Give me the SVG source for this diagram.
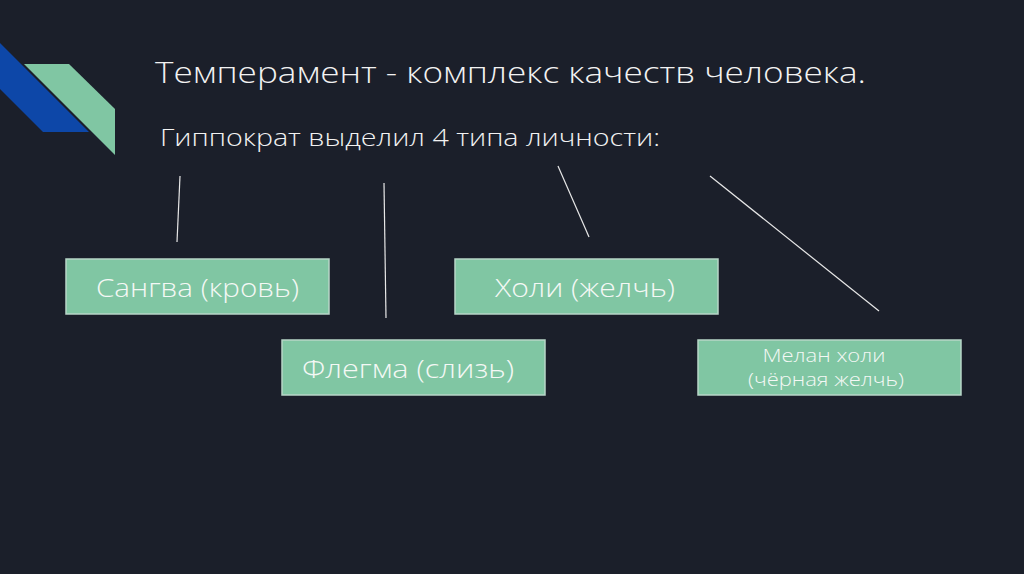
<svg xmlns="http://www.w3.org/2000/svg" width="1024" height="574" viewBox="0 0 1024 574">
<style>
.box{fill:#80c6a3;stroke:#b8d6c8;stroke-width:1.5}
.bt{font-family:"Open Sans","DejaVu Sans",sans-serif;font-weight:300;fill:#f4f8f5;text-anchor:middle}
.ln{stroke:#e8e8e8;stroke-width:1.2;fill:none}
.ttl{font-family:"Open Sans","DejaVu Sans",sans-serif;font-weight:300;fill:#f2f2f2}
</style>
<rect width="1024" height="574" fill="#1b1f2a"/>
<g id="decor">
<polygon points="0,43 89,132 43,132 0,89" fill="#0d47a8"/>
<polygon points="24,64 69,64 115,109 115,155" fill="#80c6a3"/>
</g>
<g id="title">
<text class="ttl" x="155" y="83" font-size="30" textLength="711" lengthAdjust="spacingAndGlyphs">Темперамент - комплекс качеств человека.</text>
<text class="ttl" x="160" y="146" font-size="24" textLength="500" lengthAdjust="spacingAndGlyphs">Гиппократ выделил 4 типа личности:</text>
</g>
<g id="connectors">
<line class="ln" x1="180" y1="176" x2="177" y2="242"/>
<line class="ln" x1="384" y1="183" x2="386" y2="318"/>
<line class="ln" x1="558" y1="166" x2="589" y2="237"/>
<line class="ln" x1="710" y1="176" x2="879" y2="311"/>
</g>
<g id="sangva">
<rect class="box" x="66" y="259" width="263" height="55"/>
<text class="bt" x="197.5" y="297" font-size="25" textLength="203" lengthAdjust="spacingAndGlyphs">Сангва (кровь)</text>
</g>
<g id="holi">
<rect class="box" x="455" y="259" width="263" height="55"/>
<text class="bt" x="585" y="297" font-size="25" textLength="180" lengthAdjust="spacingAndGlyphs">Холи (желчь)</text>
</g>
<g id="flegma">
<rect class="box" x="282" y="340" width="263" height="55"/>
<text class="bt" x="408" y="378" font-size="25" textLength="212" lengthAdjust="spacingAndGlyphs">Флегма (слизь)</text>
</g>
<g id="melan">
<rect class="box" x="698" y="340" width="263" height="55"/>
<text class="bt" x="824" y="362" font-size="18" textLength="123" lengthAdjust="spacingAndGlyphs">Мелан холи</text>
<text class="bt" x="826" y="386" font-size="18" textLength="156" lengthAdjust="spacingAndGlyphs">(чёрная желчь)</text>
</g>
</svg>
